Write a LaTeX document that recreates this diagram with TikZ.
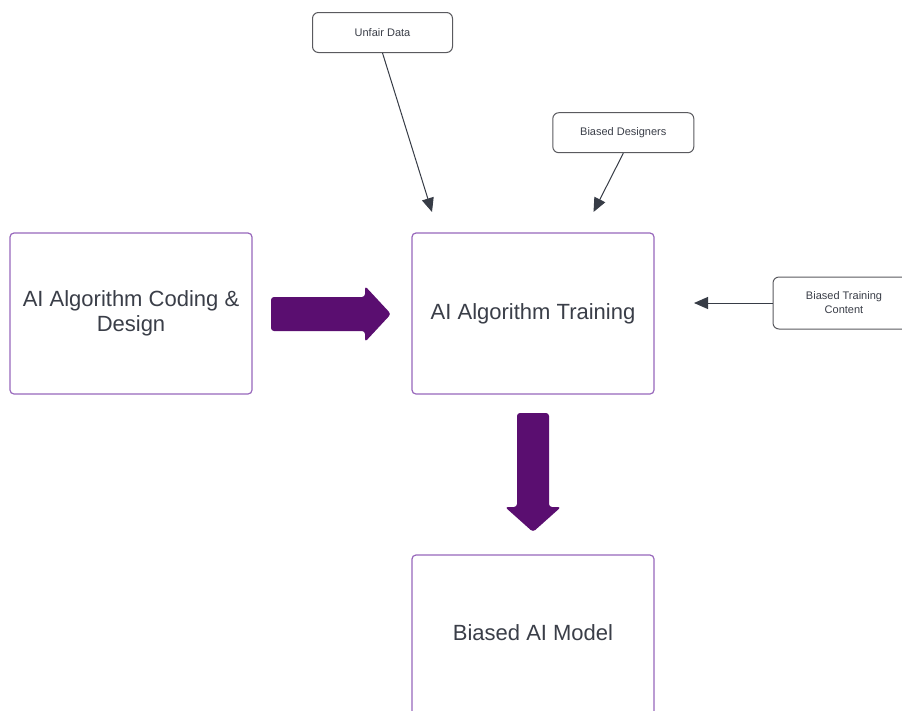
\documentclass[tikz,border=0pt]{standalone}
\usepackage{fontspec}
\setmainfont{Liberation Sans}
\usetikzlibrary{arrows.meta}
\definecolor{boxpurple}{RGB}{152,104,188}
\definecolor{arrowpurple}{RGB}{90,14,112}
\definecolor{txt}{RGB}{58,62,72}
\definecolor{smallborder}{RGB}{90,90,95}
\definecolor{conn}{RGB}{55,60,70}
\tikzset{
  bigbox/.style={draw=boxpurple, line width=1.2pt, rounded corners=4pt, fill=white,
    minimum width=242pt, minimum height=161pt, inner sep=0pt, align=center,
    text=txt, font=\fontsize{22}{24.5}\selectfont},
  smallbox/.style={draw=smallborder, line width=1pt, rounded corners=6pt, fill=white,
    minimum height=40pt, inner sep=0pt, align=center,
    text=txt, font=\fontsize{11}{14}\selectfont},
  feed/.style={draw=conn, line width=1pt, -{Triangle[length=14pt,width=12pt]}},
  blockarrow/.style={fill=arrowpurple, draw=none, rounded corners=3pt}
}
\begin{document}
\begin{tikzpicture}[x=1pt,y=-1pt]
\useasboundingbox (0,0) rectangle (902,710);
\clip (0,0) rectangle (902,710);
\fill[white] (0,0) rectangle (902,710);

\node[bigbox] (design) at (131,313.5) {\raisebox{-2pt}{\parbox{240pt}{\centering AI Algorithm Coding \&\\Design}}};
\node[bigbox] (train) at (533,313.5) {\raisebox{1pt}{AI Algorithm Training}};
\node[bigbox] (model) at (533,635.5) {\raisebox{5pt}{Biased AI Model}};

\node[smallbox, minimum width=140pt] (unfair) at (382.5,32.5) {Unfair Data};
\node[smallbox, minimum width=141pt] (designers) at (623.3,132.7) {Biased Designers};
\node[smallbox, minimum width=142pt, minimum height=52pt] (content) at (844,303) {Biased Training\\Content};

\coordinate (tipA) at (432,212);
\coordinate (tipB) at (593.5,212);
\coordinate (tipC) at (694,303);

\draw[feed] (unfair.south) -- (tipA);
\draw[feed] (designers.south) -- (tipB);
\draw[feed] (content.west) -- (tipC);

% block arrows
\path[blockarrow] (271,297) -- (365,297) -- (365,286) -- (391,314) -- (365,342) -- (365,331) -- (271,331) -- cycle;
\path[blockarrow] (517,413) -- (549,413) -- (549,507) -- (561,507) -- (533,532) -- (505,507) -- (517,507) -- cycle;
\end{tikzpicture}
\end{document}
